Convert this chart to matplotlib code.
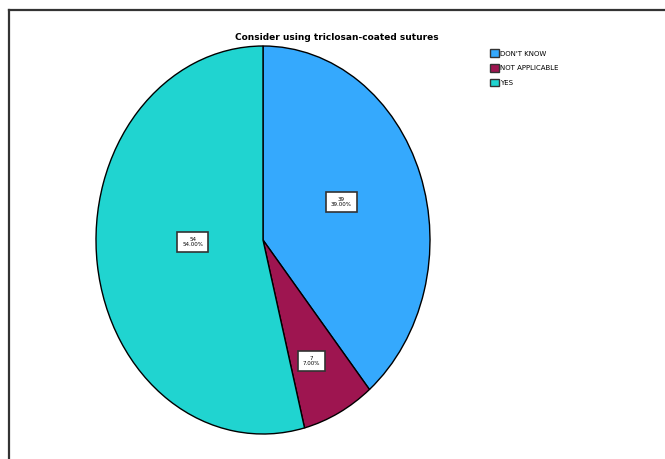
import numpy as np
import matplotlib
matplotlib.use('Agg')
import matplotlib.pyplot as plt
from matplotlib.lines import Line2D
from matplotlib.patches import Patch

categories = ["DON'T KNOW", "NOT APPLICABLE", "YES"]
counts = [39, 7, 54]
percents = [39.00, 7.00, 54.00]
colors = ['#35A9FD', '#9E1550', '#20D4D0']

fig = plt.figure(figsize=(6.65, 4.59), dpi=100)
fig.patch.set_facecolor('white')

# cropped frame: only top and left edges show
fig.add_artist(Line2D([8.5 / 665, 1], [1 - 9.5 / 459, 1 - 9.5 / 459],
                      color='#333333', linewidth=1.6, transform=fig.transFigure))
fig.add_artist(Line2D([8.5 / 665, 8.5 / 665], [0, 1 - 9.5 / 459],
                      color='#333333', linewidth=1.6, transform=fig.transFigure))

ax = fig.add_axes([96 / 665, 25 / 459, 334 / 665, 388 / 459])
wedges, _ = ax.pie(counts, colors=colors, startangle=90, counterclock=False,
                   wedgeprops=dict(edgecolor='black', linewidth=1.0))
ax.set_xlim(-1, 1)
ax.set_ylim(-1, 1)
ax.set_aspect('auto')
ax.axis('off')

# label placement: distance from centre and angle nudge (degrees)
label_r = [0.51, 0.69, 0.42]
label_nudge = [3, -2, -6]
for w, n, p, r, d in zip(wedges, counts, percents, label_r, label_nudge):
    ang = np.deg2rad((w.theta1 + w.theta2) / 2 + d)
    ax.text(r * np.cos(ang), r * np.sin(ang), f'{n}\n{p:.2f}%',
            ha='center', va='center', fontsize=4, linespacing=1.0,
            bbox=dict(boxstyle='square,pad=0.9', facecolor='white',
                      edgecolor='#333333', linewidth=1.2))

fig.text(337 / 665, 1 - 37 / 459, 'Consider using triclosan-coated sutures',
         ha='center', va='center', fontsize=6.5, fontweight='bold')

handles = [Patch(facecolor=c, edgecolor='#333333', linewidth=1.0) for c in colors]
fig.legend(handles, categories, loc='upper left',
           bbox_to_anchor=(487 / 665, 1 - 46 / 459), frameon=False,
           fontsize=5, handlelength=1.2, handleheight=1.3,
           handletextpad=0.15, labelspacing=1.0, borderpad=0)

fig.savefig('out.png', dpi=100, facecolor='white')
